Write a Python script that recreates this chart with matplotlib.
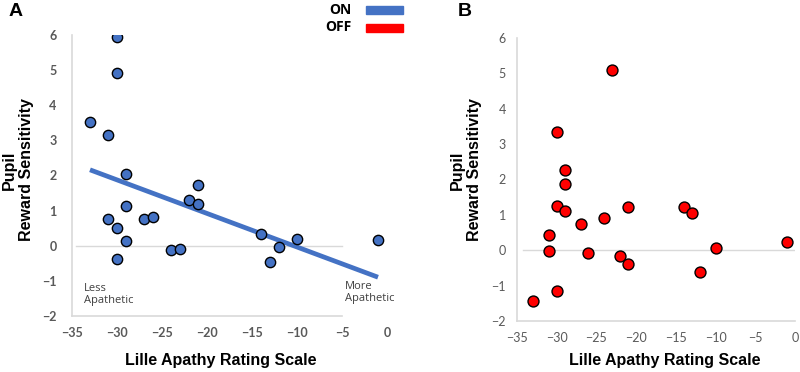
import numpy as np
import matplotlib.pyplot as plt

# ON medication (panel A)
on_x = [-30, -30, -33, -31, -29, -29, -31, -30, -29, -30, -27, -26, -24, -23,
        -22, -21, -21, -14, -13, -12, -10, -1]
on_y = [5.94, 4.91, 3.52, 3.16, 2.04, 1.13, 0.75, 0.51, 0.14, -0.37, 0.76, 0.82,
        -0.13, -0.09, 1.29, 1.73, 1.20, 0.34, -0.46, -0.03, 0.18, 0.16]

# OFF medication (panel B)
off_x = [-23, -30, -29, -29, -30, -29, -31, -31, -33, -30, -27, -26, -24, -22,
         -21, -21, -14, -13, -12, -10, -1]
off_y = [5.09, 3.33, 2.28, 1.86, 1.25, 1.11, 0.42, -0.02, -1.43, -1.14, 0.74,
         -0.08, 0.92, -0.17, 1.21, -0.38, 1.21, 1.06, -0.62, 0.06, 0.23]

x_ticks = [-35, -30, -25, -20, -15, -10, -5, 0]
y_ticks = [-2, -1, 0, 1, 2, 3, 4, 5, 6]

blue = '#4472C4'
red = '#FF0000'
tick_col = '#595959'
tick_font = 'Lato'
lab_font = 'Liberation Sans'

fig = plt.figure(figsize=(8, 3.72), dpi=100)
axA = fig.add_axes([72 / 800, 56 / 372, 315 / 800, 281 / 372])
axB = fig.add_axes([517 / 800, 51 / 372, 278 / 800, 283 / 372])


def style(ax, bold, xend):
    ax.set_xlim(-35, 0)
    ax.set_ylim(-2, 6)
    ax.set_xticks(x_ticks)
    ax.set_yticks(y_ticks)
    for s in ['top', 'right']:
        ax.spines[s].set_visible(False)
    for s in ['left', 'bottom']:
        ax.spines[s].set_color('#d9d9d9')
        ax.spines[s].set_linewidth(1.2)
    ax.spines['bottom'].set_bounds(-35, xend)
    ax.tick_params(length=0, colors=tick_col, labelsize=9)
    ax.tick_params(axis='y', pad=11 if bold else 8)
    ax.tick_params(axis='x', pad=8)
    for lbl in ax.get_xticklabels() + ax.get_yticklabels():
        lbl.set_family(tick_font)
        lbl.set_fontweight('bold' if bold else 'normal')


style(axA, True, -5)
style(axB, False, 0)

axA.axhline(0, xmin=0.012, xmax=0.857, color='#d9d9d9', lw=1, zorder=1)
axB.axhline(0, xmin=0.02, xmax=1.0, color='#d9d9d9', lw=1, zorder=1)

# trend line for ON
k, b = np.polyfit(on_x, on_y, 1)
xs = np.array([min(on_x), max(on_x)])
axA.plot(xs, k * xs + b, color=blue, lw=3.4, solid_capstyle='butt', zorder=2)

axA.scatter(on_x, on_y, s=55, color=blue, edgecolor='black', linewidth=1, zorder=3)
axB.scatter(off_x, off_y, s=62, color=red, edgecolor='black', linewidth=1, zorder=3)

axA.text(-33.7, -1.05, 'Less\nApathetic', fontsize=8, color='#404040',
         family='Open Sans', va='top', linespacing=1.2)
axA.text(-4.7, -1.0, 'More\nApathetic', fontsize=8, color='#404040',
         family='Open Sans', va='top', linespacing=1.2)

# axis labels
fig.text(221 / 800, 1 - 361 / 372, 'Lille Apathy Rating Scale', ha='center',
         va='center', fontsize=11.5, fontweight='bold', family=lab_font)
fig.text(665 / 800, 1 - 361 / 372, 'Lille Apathy Rating Scale', ha='center',
         va='center', fontsize=11.5, fontweight='bold', family=lab_font)
fig.text(18 / 800, 1 - 170 / 372, 'Pupil\nReward Sensitivity', ha='center',
         va='center', rotation=90, fontsize=11.5, fontweight='bold',
         family=lab_font, linespacing=1.2)
fig.text(466 / 800, 1 - 170 / 372, 'Pupil\nReward Sensitivity', ha='center',
         va='center', rotation=90, fontsize=11.5, fontweight='bold',
         family=lab_font, linespacing=1.2)

# panel letters
fig.text(16 / 800, 1 - 12 / 372, 'A', ha='center', va='center', fontsize=14,
         fontweight='bold', family=lab_font)
fig.text(465 / 800, 1 - 12 / 372, 'B', ha='center', va='center', fontsize=14,
         fontweight='bold', family=lab_font)

# legend
fig.text(352 / 800, 1 - 10 / 372, 'ON', ha='right', va='center', fontsize=10,
         fontweight='bold', family='Open Sans')
fig.text(352 / 800, 1 - 27 / 372, 'OFF', ha='right', va='center', fontsize=10,
         fontweight='bold', family='Open Sans')
fig.add_artist(plt.Rectangle((366 / 800, 1 - 14 / 372), 37 / 800, 8 / 372,
                             transform=fig.transFigure, color=blue))
fig.add_artist(plt.Rectangle((366 / 800, 1 - 32 / 372), 37 / 800, 8 / 372,
                             transform=fig.transFigure, color=red))

fig.savefig('out.png', dpi=100)
